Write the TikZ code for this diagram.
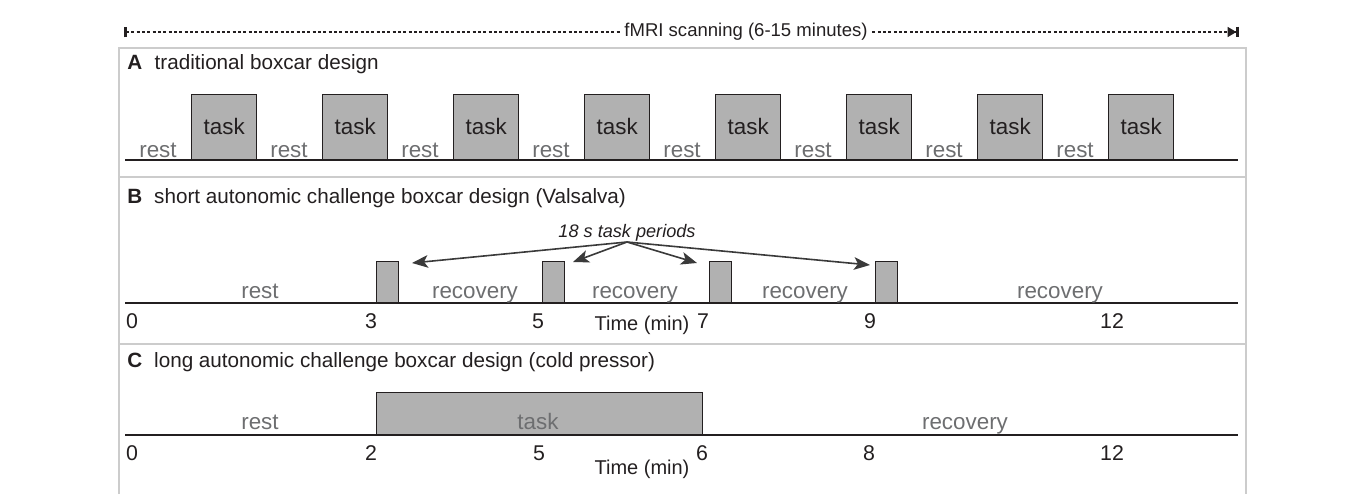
\documentclass[tikz,border=0pt]{standalone}
\usepackage{fontspec}
\setmainfont{Liberation Sans}
\usetikzlibrary{arrows.meta}
\definecolor{ink}{HTML}{231F20}
\definecolor{soft}{HTML}{6D6E70}
\definecolor{taskfill}{HTML}{B1B1B1}
\definecolor{frame}{HTML}{CCCCCC}
\definecolor{arr}{HTML}{3A3A3A}
\begin{document}
\begin{tikzpicture}[x=0.75pt,y=-0.75pt,
  panel/.style={draw=frame,line width=1.9pt},
  axisline/.style={draw=ink,line width=1.5pt},
  taskbox/.style={draw=ink,fill=taskfill,line width=1.1pt,inner sep=0pt,anchor=south west},
  head/.style={anchor=base west,inner sep=0pt,text=ink,font=\fontsize{15.5}{18}\selectfont},
  softlbl/.style={anchor=base,inner sep=0pt,text=soft,font=\fontsize{16.8}{20}\selectfont},
  tasklbl/.style={text=ink,font=\fontsize{16.8}{20}\selectfont},
  numlbl/.style={anchor=base,inner sep=0pt,text=ink,font=\fontsize{16}{19}\selectfont},
  timelbl/.style={anchor=base,inner sep=0pt,text=ink,font=\fontsize{15}{18}\selectfont},
  pointer/.style={draw=arr,line width=1.2pt,-{Stealth[length=12pt,width=9.5pt,inset=3pt]}},
  scanline/.style={draw=ink,line width=1pt,dash pattern=on 2.2pt off 1.8pt}
]
\useasboundingbox (0,0) rectangle (1357,494);

% scanning span
\coordinate (scanL) at (124,32);
\coordinate (scanR) at (1239,32);
\node[inner sep=3.5pt,text=ink,font=\fontsize{13.9}{16}\selectfont] (scan) at (746,32) {fMRI scanning (6-15 minutes)};
\draw[scanline,{Bar[width=8pt,line width=2pt]}-] (scanL) -- (scan.west);
\draw[scanline,-{Triangle[length=6.5pt,width=7.5pt]Bar[width=8pt,line width=2pt]}] (scan.east) -- (scanR);

% panel frame
\draw[panel] (119,494) -- (119,48) -- (1246,48) -- (1246,494);
\draw[panel] (119,177) -- (1246,177);
\draw[panel] (119,344) -- (1246,344);

% Panel A
\node[head] (ha) at (127,69) {\textbf{A}\hspace{9.4pt}traditional boxcar design};
\foreach \k in {0,...,7}{
  \node[taskbox,tasklbl,minimum width=48.75pt,minimum height=48.75pt] (ta\k) at ({191+131*\k},160) {task};
  \node[softlbl] (ra\k) at ({158+131*\k},157) {rest};
}
\draw[axisline] (125,160) -- (1238,160);

% Panel B
\node[head] (hb) at (127,203) {\textbf{B}\hspace{9pt}short autonomic challenge boxcar design (Valsalva)};
\foreach \x/\n in {376/1,542/2,709/3,875/4}
  \node[taskbox,minimum width=16.5pt,minimum height=30.75pt] (tb\n) at (\x,303) {};
\draw[axisline] (125,303) -- (1238,303);
\node[softlbl] (rb) at (260,298) {rest};
\node[softlbl] (rc1) at (475,298) {recovery};
\node[softlbl] (rc2) at (635,298) {recovery};
\node[softlbl] (rc3) at (805,298) {recovery};
\node[softlbl] (rc4) at (1060,298) {recovery};
\foreach \x/\t in {132/0,371/3,538/5,703/7,870/9,1112/12}
  \node[numlbl] (nb\t) at (\x,328) {\t};
\node[timelbl] (timeb) at (642,330) {Time (min)};
\node[anchor=base,inner sep=0pt,text=ink,font=\itshape\fontsize{13.6}{16}\selectfont] (per) at (627,237) {18 s task periods};
\coordinate (src) at (627,242);
\coordinate (p1) at (412,263);
\coordinate (p2) at (573,262);
\coordinate (p3) at (697,263);
\coordinate (p4) at (870,265);
\draw[pointer] (src) -- (p1);
\draw[pointer] (src) -- (p2);
\draw[pointer] (src) -- (p3);
\draw[pointer] (src) -- (p4);

% Panel C
\node[head] (hc) at (127,367) {\textbf{C}\hspace{9pt}long autonomic challenge boxcar design (cold pressor)};
\node[taskbox,minimum width=244.5pt,minimum height=31.5pt] (tc) at (376,435) {};
\draw[axisline] (125,435) -- (1238,435);
\node[softlbl] (rcr) at (260,429) {rest};
\node[softlbl] (rct) at (538,429) {task};
\node[softlbl] (rcv) at (965,429) {recovery};
\foreach \x/\t in {132/0,371/2,539/5,702/6,869/8,1112/12}
  \node[numlbl] (nc\t) at (\x,460) {\t};
\node[timelbl] (timec) at (642,474) {Time (min)};
\end{tikzpicture}
\end{document}
